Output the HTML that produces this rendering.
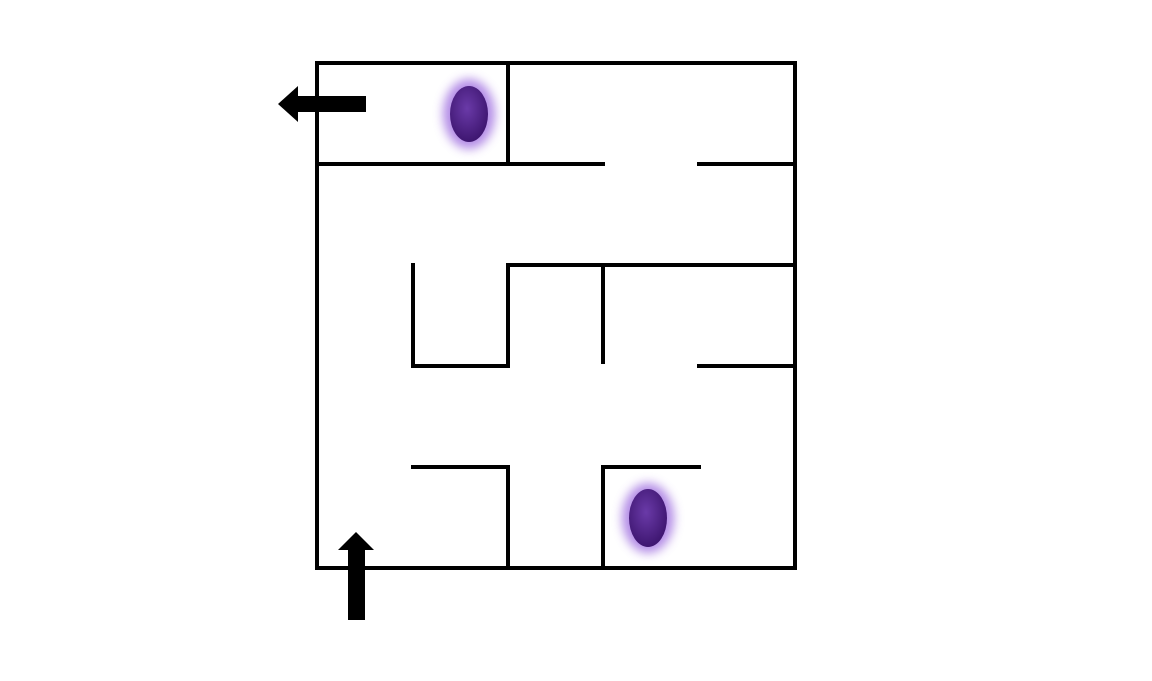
<!DOCTYPE html>
<html><head><meta charset="utf-8"><style>html,body{margin:0;padding:0;background:#fff;}svg{display:block}</style></head>
<body>
<svg width="1152" height="681" viewBox="0 0 1152 681">
<defs>
<filter id="glow" x="-80%" y="-80%" width="260%" height="260%"><feGaussianBlur stdDeviation="5"/></filter>
<radialGradient id="pg" cx="45%" cy="40%" r="60%"><stop offset="0" stop-color="#6a3aa8"/><stop offset="1" stop-color="#3e1670"/></radialGradient>
</defs>
<g stroke="#000" stroke-width="4" fill="none" stroke-linecap="square">
<rect x="317" y="63" width="478" height="505"/>
<path d="M508 63V164 M317 164H603 M699 164H795 M508 265H795 M413 265V366H508V265 M603 265V362 M699 366H795 M413 467H508V568 M603 568V467H699"/>
</g>
<g>
<ellipse cx="469" cy="114" rx="26" ry="35" fill="#a070e0" opacity="0.8" filter="url(#glow)"/>
<ellipse cx="469" cy="114" rx="19" ry="28" fill="url(#pg)"/>
</g>
<g>
<ellipse cx="648" cy="518" rx="26" ry="35" fill="#a070e0" opacity="0.8" filter="url(#glow)"/>
<ellipse cx="648" cy="518" rx="19" ry="29" fill="url(#pg)"/>
</g>
<polygon points="278,104 298,86 298,96 366,96 366,112 298,112 298,122" fill="#000"/>
<polygon points="356,532 374,550 365,550 365,620 348,620 348,550 338,550" fill="#000"/>
</svg>
</body></html>
